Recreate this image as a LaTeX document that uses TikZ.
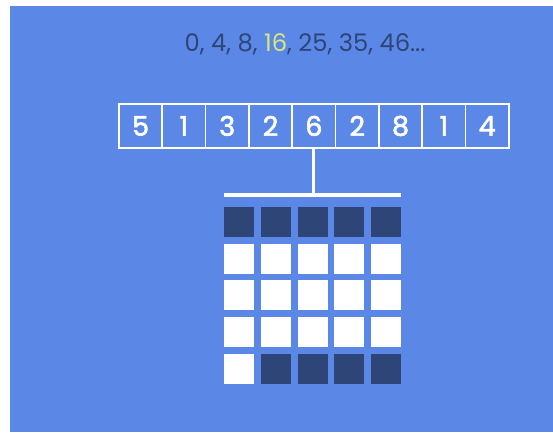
\documentclass[tikz,border=0pt]{standalone}
\usepackage{fontspec}
\setmainfont{Poppins}
\newfontfamily\digitfont{Poppins}[FakeBold=2.2]
\definecolor{bgblue}{HTML}{5B88E6}
\definecolor{navy}{HTML}{2D4577}
\definecolor{hilite}{HTML}{D6E87C}
\begin{document}
\begin{tikzpicture}[x=1pt,y=-1pt,
  cell/.style={draw=white,line width=1.8pt,minimum width=43.3pt,minimum height=44pt,inner sep=0pt,text=white,font=\digitfont\fontsize{27}{27}\selectfont,anchor=north west},
  sq/.style={minimum size=30pt,inner sep=0pt,anchor=north west},
  dark/.style={sq,fill=navy},
  light/.style={sq,fill=white}]
\fill[white] (0,0) rectangle (553,432);
\fill[bgblue] (10,6) rectangle (553,432);
\useasboundingbox (0,0) rectangle (553,432);
\node[text=navy,font=\fontsize{24.2}{25}\selectfont,anchor=base] (seq) at (305,51) {0, 4, 8, \textcolor{hilite}{16}, 25, 35, 46...};
\foreach \v [count=\i] in {5,1,3,2,6,2,8,1,4}{
  \node[cell] (c\i) at ({118+(\i-1)*43.33},103) {\v};
}
\coordinate (barL) at (224,195);
\coordinate (barR) at (401,195);
\draw[white,line width=3.5pt] (barL) -- (barR);
\draw[white,line width=3pt] (c5.south) -- (c5.south |- barL);
\foreach \r in {1,...,5}{
  \foreach \c in {1,...,5}{
    \pgfmathtruncatemacro{\isdark}{(\r==1)||(\r==5 && \c>1)}
    \ifnum\isdark=1
      \node[dark] (s\r\c) at ({224+(\c-1)*36.75},{207+(\r-1)*36.6}) {};
    \else
      \node[light] (s\r\c) at ({224+(\c-1)*36.75},{207+(\r-1)*36.6}) {};
    \fi
  }
}
\end{tikzpicture}
\end{document}
